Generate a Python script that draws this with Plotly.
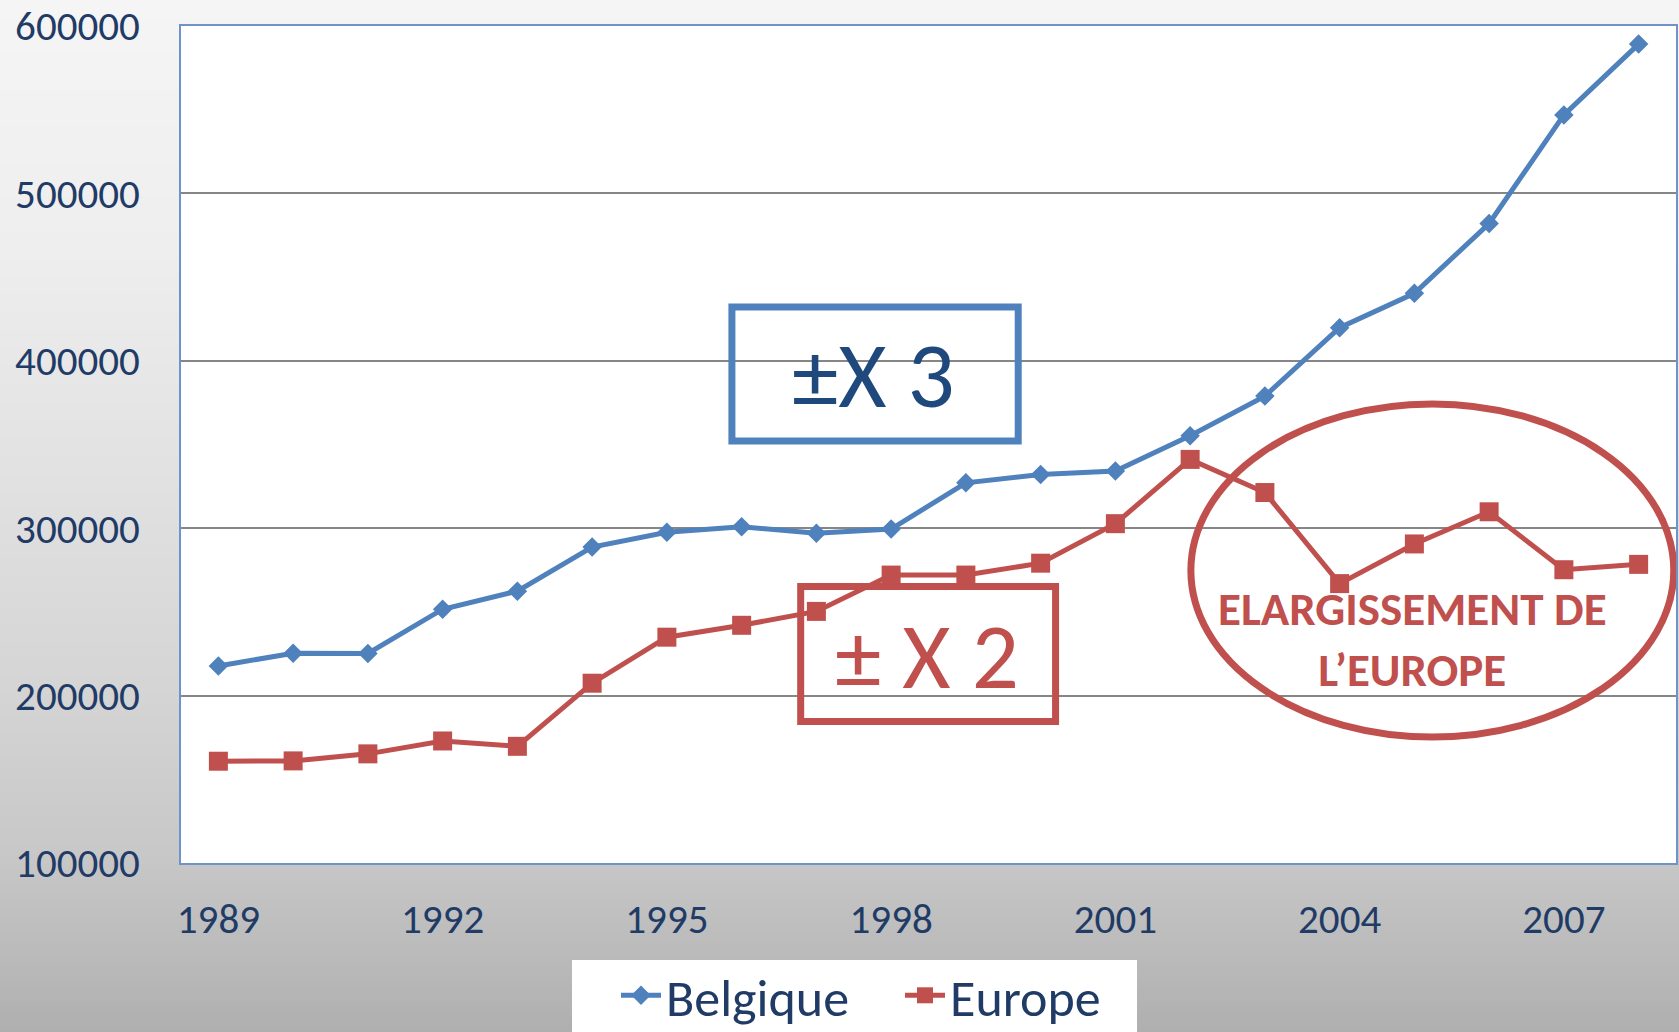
import plotly.graph_objects as go

# ---- data ----
years = list(range(1989, 2009))
belgique = [217700, 225300, 225200, 251600, 262400, 288700, 297600, 300800, 297000, 299500,
            327100, 332100, 334100, 355200, 378900, 419800, 440300, 482000, 546900, 589200]
europe = [160800, 161000, 165200, 172900, 169700, 207400, 234900, 242000, 250300, 272000,
          272000, 279100, 302700, 341100, 321300, 266900, 290600, 309800, 275200, 278400]
x_tick_years = [1989, 1992, 1995, 1998, 2001, 2004, 2007]
y_ticks = [100000, 200000, 300000, 400000, 500000, 600000]

W, H = 1679, 1032
ML, MR, MT, MB = 181, 3, 26, 169
PW = W - ML - MR
PH = H - MT - MB

BLUE = "#4F81BD"
RED = "#C0504D"
NAVY = "#1F3B66"
FONT = "Carlito, Lato, 'Open Sans', sans-serif"


def py(px):  # pixel y -> paper y
    return (H - MB - px) / PH


def pxx(px):  # pixel x -> paper x
    return (px - ML) / PW


fig = go.Figure()
fig.add_trace(go.Scatter(x=years, y=belgique, name="Belgique", mode="lines+markers",
                         line=dict(color=BLUE, width=5),
                         marker=dict(symbol="diamond", size=15, color=BLUE)))
fig.add_trace(go.Scatter(x=years, y=europe, name="Europe", mode="lines+markers",
                         line=dict(color=RED, width=5),
                         marker=dict(symbol="square", size=19, color=RED)))

shapes = []
# gradient background
stops = [(0, 245), (250, 238), (500, 224), (700, 212), (860, 199), (950, 187), (1032, 175)]


def grey(y):
    for (y0, c0), (y1, c1) in zip(stops[:-1], stops[1:]):
        if y0 <= y <= y1:
            return c0 + (c1 - c0) * (y - y0) / (y1 - y0)
    return stops[-1][1]


step = 3
for y in range(0, H + step, step):
    g = int(round(grey(min(y + step / 2, H))))
    shapes.append(dict(type="rect", xref="paper", yref="paper",
                       x0=pxx(-2), x1=pxx(W + 2), y0=py(y + step + 0.5), y1=py(y),
                       fillcolor=f"rgb({g},{g},{g})", line=dict(width=0), layer="below"))
# white plot area
shapes.append(dict(type="rect", xref="paper", yref="paper", x0=0, x1=1, y0=0, y1=1,
                   fillcolor="white", line=dict(width=0), layer="below"))
# legend box
shapes.append(dict(type="rect", xref="paper", yref="paper",
                   x0=pxx(572), x1=pxx(1137), y0=py(1040), y1=py(960),
                   fillcolor="white", line=dict(width=0), layer="below"))
# annotation boxes
shapes.append(dict(type="rect", xref="x", yref="y", x0=1995.87, x1=1999.70, y0=352090, y1=432140,
                   line=dict(color=BLUE, width=7), fillcolor="rgba(0,0,0,0)", layer="above"))
shapes.append(dict(type="rect", xref="x", yref="y", x0=1996.79, x1=2000.20, y0=184530, y1=265170,
                   line=dict(color=RED, width=7), fillcolor="rgba(0,0,0,0)", layer="above"))
shapes.append(dict(type="circle", xref="x", yref="y", x0=2002.01, x1=2008.47, y0=175270, y1=374190,
                   line=dict(color=RED, width=7), fillcolor="rgba(0,0,0,0)", layer="above"))

annotations = [
    dict(x=1997.77, y=391520, xref="x", yref="y", text="±X 3", showarrow=False,
         font=dict(family=FONT, size=93, color="#1F497D")),
    dict(x=1998.48, y=223660, xref="x", yref="y", text="± X 2", showarrow=False,
         font=dict(family=FONT, size=93, color=RED)),
    dict(x=2004.97, y=233510, xref="x", yref="y", text="<b>ELARGISSEMENT DE<br>L’EUROPE</b>",
         showarrow=False, align="center",
         font=dict(family=FONT, size=47, color=RED)),
    dict(x=pxx(88), y=py(1020), xref="paper", yref="paper", text="<b>DIGI</b>", showarrow=False,
         xanchor="left", yanchor="top", font=dict(family=FONT, size=36, color=NAVY)),
]

fig.update_layout(
    width=W, height=H,
    margin=dict(l=ML, r=MR, t=MT, b=MB, pad=0, autoexpand=False),
    paper_bgcolor="rgb(230,230,230)",
    plot_bgcolor="rgba(0,0,0,0)",
    font=dict(family=FONT, color=NAVY),
    shapes=shapes,
    annotations=annotations,
    showlegend=True,
    legend=dict(orientation="h", x=pxx(616), xanchor="left", y=py(955), yanchor="top",
                bgcolor="rgba(0,0,0,0)", font=dict(family=FONT, size=52, color=NAVY),
                itemwidth=40, entrywidth=229, entrywidthmode="pixels"),
    xaxis=dict(range=[1988.5, 2008.5], tickmode="array", tickvals=x_tick_years,
               ticktext=[str(v) for v in x_tick_years],
               showgrid=False, zeroline=False, showline=True, mirror=True,
               linecolor="#6F93C8", linewidth=2, ticks="",
               tickfont=dict(family=FONT, size=41, color=NAVY), ticklabelstandoff=19),
    yaxis=dict(range=[100000, 600000], tickmode="array", tickvals=y_ticks,
               ticktext=[str(v) for v in y_ticks],
               showgrid=True, gridcolor="#868686", gridwidth=2, zeroline=False,
               showline=True, mirror=True, linecolor="#6F93C8", linewidth=2, ticks="",
               tickfont=dict(family=FONT, size=41, color=NAVY), ticklabelstandoff=31),
)

fig.write_html("out.html", config={"displayModeBar": False},
               post_script="document.body.style.margin='0';document.body.style.overflow='hidden';")
